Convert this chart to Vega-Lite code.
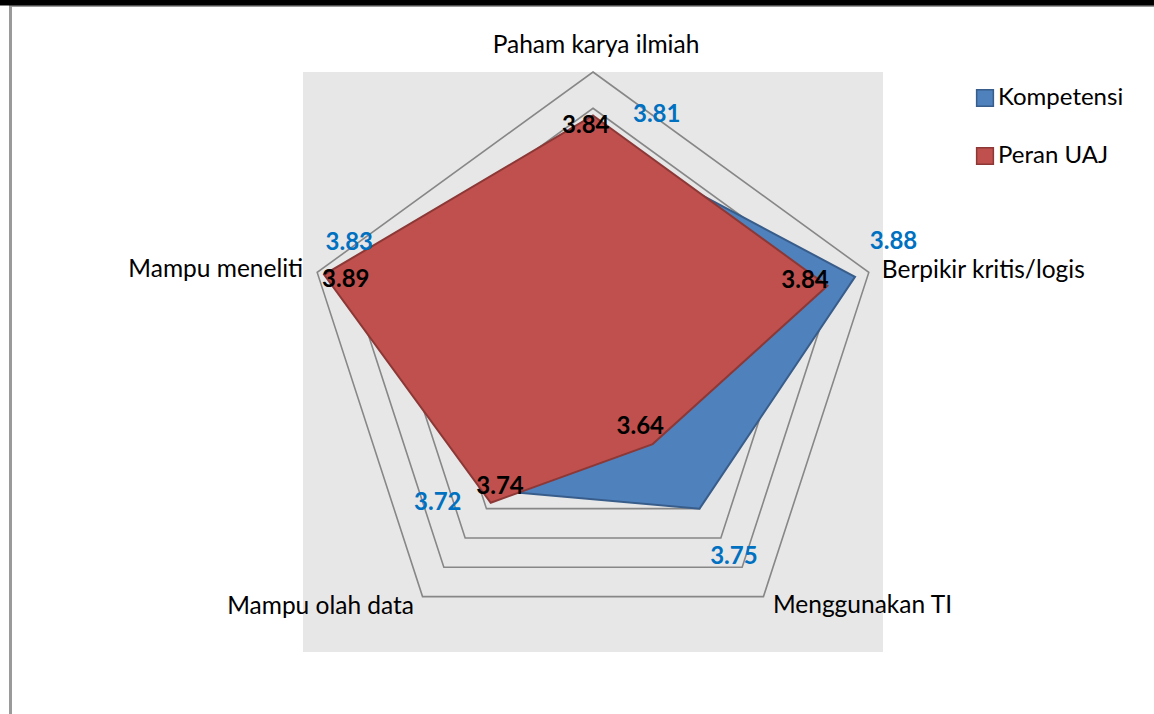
{
  "$schema": "https://vega.github.io/schema/vega-lite/v6.json",
  "width": 1154,
  "height": 714,
  "padding": 0,
  "autosize": {"type": "none"},
  "background": "white",
  "config": {"view": {"stroke": null}, "font": "Lato"},
  "datasets": {
    "aspects": [
      {"aspek": "Paham karya ilmiah"},
      {"aspek": "Berpikir kritis/logis"},
      {"aspek": "Menggunakan TI"},
      {"aspek": "Mampu olah data"},
      {"aspek": "Mampu meneliti"}
    ],
    "scores": [
      {"series": "Kompetensi", "aspek": "Paham karya ilmiah", "nilai": 3.81},
      {"series": "Kompetensi", "aspek": "Berpikir kritis/logis", "nilai": 3.88},
      {"series": "Kompetensi", "aspek": "Menggunakan TI", "nilai": 3.75},
      {"series": "Kompetensi", "aspek": "Mampu olah data", "nilai": 3.72},
      {"series": "Kompetensi", "aspek": "Mampu meneliti", "nilai": 3.83},
      {"series": "Peran UAJ", "aspek": "Paham karya ilmiah", "nilai": 3.84},
      {"series": "Peran UAJ", "aspek": "Berpikir kritis/logis", "nilai": 3.84},
      {"series": "Peran UAJ", "aspek": "Menggunakan TI", "nilai": 3.64},
      {"series": "Peran UAJ", "aspek": "Mampu olah data", "nilai": 3.74},
      {"series": "Peran UAJ", "aspek": "Mampu meneliti", "nilai": 3.89}
    ]
  },
  "layer": [
    {
      "data": {"values": [{}]},
      "mark": {"type": "rect", "fill": "#E7E7E7"},
      "encoding": {
        "x": {"datum": -1, "type": "quantitative", "axis": null, "scale": {"domain": [-2.044828, 1.934483], "nice": false, "zero": false}},
        "x2": {"datum": 1},
        "y": {"datum": -1, "type": "quantitative", "axis": null, "scale": {"domain": [-1.213793, 1.248276], "nice": false, "zero": false}},
        "y2": {"datum": 1}
      }
    },
    {
      "data": {"name": "aspects"},
      "transform": [
        {"calculate": "indexof(['Paham karya ilmiah','Berpikir kritis/logis','Menggunakan TI','Mampu olah data','Mampu meneliti'], datum.aspek)", "as": "idx"},
        {"calculate": "PI/2 - datum.idx*2*PI/5", "as": "ang"},
        {"calculate": "[3.55,3.6,3.65,3.7,3.75,3.8,3.85,3.9]", "as": "levels"},
        {"flatten": ["levels"], "as": ["level"]},
        {"calculate": "(datum.level - 3.5)/0.4", "as": "r"},
        {"calculate": "datum.r*cos(datum.ang)", "as": "px"},
        {"calculate": "datum.r*sin(datum.ang)", "as": "py"}
      ],
      "mark": {"type": "line", "interpolate": "linear-closed", "stroke": "#878787", "strokeWidth": 1.6, "strokeJoin": "miter"},
      "encoding": {
        "x": {"field": "px", "type": "quantitative", "axis": null, "scale": {"domain": [-2.044828, 1.934483], "nice": false, "zero": false}},
        "y": {"field": "py", "type": "quantitative", "axis": null, "scale": {"domain": [-1.213793, 1.248276], "nice": false, "zero": false}},
        "detail": {"field": "level", "type": "nominal"},
        "order": {"field": "idx", "type": "quantitative"}
      }
    },
    {
      "data": {"name": "scores"},
      "transform": [
        {"calculate": "indexof(['Paham karya ilmiah','Berpikir kritis/logis','Menggunakan TI','Mampu olah data','Mampu meneliti'], datum.aspek)", "as": "idx"},
        {"calculate": "PI/2 - datum.idx*2*PI/5", "as": "ang"},
        {"calculate": "(datum.nilai - 3.5)/0.4", "as": "r"},
        {"calculate": "datum.r*cos(datum.ang)", "as": "px"},
        {"calculate": "datum.r*sin(datum.ang)", "as": "py"}
      ],
      "encoding": {
        "x": {"field": "px", "type": "quantitative", "axis": null, "scale": {"domain": [-2.044828, 1.934483], "nice": false, "zero": false}},
        "y": {"field": "py", "type": "quantitative", "axis": null, "scale": {"domain": [-1.213793, 1.248276], "nice": false, "zero": false}}
      },
      "layer": [
        {
          "mark": {"type": "line", "interpolate": "linear-closed", "strokeWidth": 2, "strokeJoin": "miter"},
          "encoding": {
            "order": {"field": "idx", "type": "quantitative"},
            "fill": {"field": "series", "type": "nominal", "scale": {"domain": ["Kompetensi", "Peran UAJ"], "range": ["#4F81BD", "#C0504D"]},
              "legend": {"title": null, "orient": "none", "legendX": 973, "legendY": 86, "symbolType": "square", "symbolSize": 280, "symbolStrokeWidth": 1.5, "labelFontSize": 24, "labelFont": "Lato", "labelColor": "black", "rowPadding": 34, "labelOffset": 1, "padding": 0}},
            "stroke": {"field": "series", "type": "nominal", "scale": {"domain": ["Kompetensi", "Peran UAJ"], "range": ["#385D8A", "#8C3836"]},
              "legend": {"title": null, "orient": "none", "legendX": 973, "legendY": 86, "symbolType": "square", "symbolSize": 280, "symbolStrokeWidth": 1.5, "labelFontSize": 24, "labelFont": "Lato", "labelColor": "black", "rowPadding": 34, "labelOffset": 1, "padding": 0}}
          }
        },
        {"transform": [{"filter": "datum.series === 'Kompetensi' && datum.idx === 0"}], "mark": {"type": "text", "fontSize": 24, "fontWeight": "bold", "color": "#0070C0", "align": "center", "baseline": "alphabetic", "dx": 63.7, "dy": -15}, "encoding": {"text": {"field": "nilai", "type": "quantitative", "format": ".2f"}}},
        {"transform": [{"filter": "datum.series === 'Kompetensi' && datum.idx === 1"}], "mark": {"type": "text", "fontSize": 24, "fontWeight": "bold", "color": "#0070C0", "align": "center", "baseline": "alphabetic", "dx": 38.5, "dy": -28}, "encoding": {"text": {"field": "nilai", "type": "quantitative", "format": ".2f"}}},
        {"transform": [{"filter": "datum.series === 'Kompetensi' && datum.idx === 2"}], "mark": {"type": "text", "fontSize": 24, "fontWeight": "bold", "color": "#0070C0", "align": "center", "baseline": "alphabetic", "dx": 34.4, "dy": 55.4}, "encoding": {"text": {"field": "nilai", "type": "quantitative", "format": ".2f"}}},
        {"transform": [{"filter": "datum.series === 'Kompetensi' && datum.idx === 3"}], "mark": {"type": "text", "fontSize": 24, "fontWeight": "bold", "color": "#0070C0", "align": "center", "baseline": "alphabetic", "dx": -61.5, "dy": 18.7}, "encoding": {"text": {"field": "nilai", "type": "quantitative", "format": ".2f"}}},
        {"transform": [{"filter": "datum.series === 'Kompetensi' && datum.idx === 4"}], "mark": {"type": "text", "fontSize": 24, "fontWeight": "bold", "color": "#0070C0", "align": "center", "baseline": "alphabetic", "dx": -16.2, "dy": -38.3}, "encoding": {"text": {"field": "nilai", "type": "quantitative", "format": ".2f"}}},
        {"transform": [{"filter": "datum.series === 'Peran UAJ' && datum.idx === 0"}], "mark": {"type": "text", "fontSize": 24, "fontWeight": "bold", "color": "black", "align": "center", "baseline": "alphabetic", "dx": -7.2, "dy": 17.2}, "encoding": {"text": {"field": "nilai", "type": "quantitative", "format": ".2f"}}},
        {"transform": [{"filter": "datum.series === 'Peran UAJ' && datum.idx === 1"}], "mark": {"type": "text", "fontSize": 24, "fontWeight": "bold", "color": "black", "align": "center", "baseline": "alphabetic", "dx": -22.4, "dy": 2.5}, "encoding": {"text": {"field": "nilai", "type": "quantitative", "format": ".2f"}}},
        {"transform": [{"filter": "datum.series === 'Peran UAJ' && datum.idx === 2"}], "mark": {"type": "text", "fontSize": 24, "fontWeight": "bold", "color": "black", "align": "center", "baseline": "alphabetic", "dx": -12.4, "dy": -9.7}, "encoding": {"text": {"field": "nilai", "type": "quantitative", "format": ".2f"}}},
        {"transform": [{"filter": "datum.series === 'Peran UAJ' && datum.idx === 3"}], "mark": {"type": "text", "fontSize": 24, "fontWeight": "bold", "color": "black", "align": "center", "baseline": "alphabetic", "dx": 9.3, "dy": -8.8}, "encoding": {"text": {"field": "nilai", "type": "quantitative", "format": ".2f"}}},
        {"transform": [{"filter": "datum.series === 'Peran UAJ' && datum.idx === 4"}], "mark": {"type": "text", "fontSize": 24, "fontWeight": "bold", "color": "black", "align": "center", "baseline": "alphabetic", "dx": 21.7, "dy": 12.1}, "encoding": {"text": {"field": "nilai", "type": "quantitative", "format": ".2f"}}}
      ]
    },
    {
      "data": {"name": "aspects"},
      "transform": [
        {"calculate": "indexof(['Paham karya ilmiah','Berpikir kritis/logis','Menggunakan TI','Mampu olah data','Mampu meneliti'], datum.aspek)", "as": "idx"},
        {"calculate": "PI/2 - datum.idx*2*PI/5", "as": "ang"},
        {"calculate": "cos(datum.ang)", "as": "px"},
        {"calculate": "sin(datum.ang)", "as": "py"}
      ],
      "encoding": {
        "x": {"field": "px", "type": "quantitative", "axis": null, "scale": {"domain": [-2.044828, 1.934483], "nice": false, "zero": false}},
        "y": {"field": "py", "type": "quantitative", "axis": null, "scale": {"domain": [-1.213793, 1.248276], "nice": false, "zero": false}}
      },
      "layer": [
        {"transform": [{"filter": "datum.idx === 0"}], "mark": {"type": "text", "fontSize": 24.5, "color": "black", "align": "center", "baseline": "alphabetic", "dx": 3, "dy": -19.5}, "encoding": {"text": {"field": "aspek", "type": "nominal"}}},
        {"transform": [{"filter": "datum.idx === 1"}], "mark": {"type": "text", "fontSize": 24.5, "color": "black", "align": "left", "baseline": "alphabetic", "dx": 13, "dy": 5.5}, "encoding": {"text": {"field": "aspek", "type": "nominal"}}},
        {"transform": [{"filter": "datum.idx === 2"}], "mark": {"type": "text", "fontSize": 24.5, "color": "black", "align": "left", "baseline": "alphabetic", "dx": 9.5, "dy": 16.5}, "encoding": {"text": {"field": "aspek", "type": "nominal"}}},
        {"transform": [{"filter": "datum.idx === 3"}], "mark": {"type": "text", "fontSize": 24.5, "color": "black", "align": "right", "baseline": "alphabetic", "dx": -8.5, "dy": 17}, "encoding": {"text": {"field": "aspek", "type": "nominal"}}},
        {"transform": [{"filter": "datum.idx === 4"}], "mark": {"type": "text", "fontSize": 24.5, "color": "black", "align": "right", "baseline": "alphabetic", "dx": -14, "dy": 5}, "encoding": {"text": {"field": "aspek", "type": "nominal"}}}
      ]
    },
    {
      "data": {"values": [{}]},
      "mark": {"type": "rule", "stroke": "#9A9A9A", "strokeWidth": 3},
      "encoding": {
        "x": {"datum": -2.0086, "type": "quantitative", "axis": null, "scale": {"domain": [-2.044828, 1.934483], "nice": false, "zero": false}}
      }
    },
    {
      "data": {"values": [{}]},
      "mark": {"type": "rule", "stroke": "#9A9A9A", "strokeWidth": 2},
      "encoding": {
        "x": {"datum": -2.0086, "type": "quantitative", "axis": null, "scale": {"domain": [-2.044828, 1.934483], "nice": false, "zero": false}},
        "x2": {"datum": 1.934483},
        "y": {"datum": 1.227586, "type": "quantitative", "axis": null, "scale": {"domain": [-1.213793, 1.248276], "nice": false, "zero": false}}
      }
    },
    {
      "data": {"values": [{}]},
      "mark": {"type": "rule", "stroke": "black", "strokeWidth": 11},
      "encoding": {
        "y": {"datum": 1.248276, "type": "quantitative", "axis": null, "scale": {"domain": [-1.213793, 1.248276], "nice": false, "zero": false}}
      }
    }
  ]
}
